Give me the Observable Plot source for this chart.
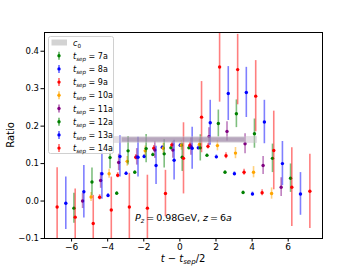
<!DOCTYPE html>
<html>
<head>
<meta charset="utf-8">
<script src="https://cdn.jsdelivr.net/npm/d3@7"></script>
<script src="https://cdn.jsdelivr.net/npm/@observablehq/plot@0.6"></script>
<style>
  html, body { margin: 0; padding: 0; background: #fff; }
  svg { display: block; }
</style>
</head>
<body>
<div id="chart"></div>
<script>
// ---- data ----
const tsep = [7, 8, 9, 10, 11, 12, 13, 14];
const seriesColors = ["green", "blue", "red", "orange", "purple", "green", "blue", "red"];
const shift = [0, 0.02, 0.055, 0.08, 0.11, 0.13, 0.18, 0.2];

const ratio7  = [0.021, 0.077, 0.124, 0.142, 0.142, 0.122, 0.077, 0.023];
const err7    = [0.004, 0.004, 0.004, 0.004, 0.004, 0.004, 0.004, 0.004];
const ratio8  = [0.015, 0.074, 0.119, 0.143, 0.149, 0.142, 0.118, 0.073, 0.019];
const err8    = [0.005, 0.005, 0.005, 0.005, 0.005, 0.005, 0.005, 0.005, 0.005];
const ratio9  = [0.010, 0.069, 0.117, 0.141, 0.150, 0.149, 0.146, 0.121, 0.077, 0.022];
const err9    = [0.007, 0.007, 0.007, 0.007, 0.007, 0.007, 0.007, 0.008, 0.008, 0.008];
const ratio10 = [0.011, 0.073, 0.106, 0.134, 0.141, 0.149, 0.151, 0.148, 0.128, 0.077, 0.020];
const err10   = [0.012, 0.012, 0.013, 0.013, 0.013, 0.013, 0.014, 0.014, 0.015, 0.015, 0.015];
const ratio11 = [0.000, 0.055, 0.103, 0.118, 0.136, 0.136, 0.145, 0.172, 0.186, 0.153, 0.095, 0.037];
const err11   = [0.020, 0.021, 0.022, 0.022, 0.022, 0.022, 0.023, 0.024, 0.026, 0.027, 0.024, 0.025];
const ratio12 = [-0.019, 0.051, 0.116, 0.134, 0.140, 0.126, 0.117, 0.142, 0.207, 0.233, 0.180, 0.114, 0.061];
const err12   = [0.040, 0.037, 0.030, 0.038, 0.038, 0.038, 0.038, 0.035, 0.036, 0.037, 0.039, 0.038, 0.038];
const ratio13 = [-0.006, 0.025, 0.073, 0.119, 0.117, 0.095, 0.109, 0.141, 0.209, 0.287, 0.290, 0.211, 0.100, 0.019];
const err13   = [0.070, 0.070, 0.068, 0.055, 0.053, 0.051, 0.053, 0.056, 0.060, 0.072, 0.067, 0.058, 0.059, 0.057];
const ratio14 = [-0.016, -0.043, -0.060, -0.024, -0.016, -0.019, 0.020, 0.114, 0.224, 0.358, 0.351, 0.280, 0.135, 0.037, 0.026];
const err14   = [0.105, 0.075, 0.075, 0.088, 0.090, 0.088, 0.062, 0.095, 0.095, 0.094, 0.094, 0.095, 0.105, 0.105, 0.099];

const ratios = [ratio7, ratio8, ratio9, ratio10, ratio11, ratio12, ratio13, ratio14];
const errs   = [err7, err8, err9, err10, err11, err12, err13, err14];

// c0 bands (overlapping fit bands)
const c0From = [-4.0, -3.2];
const c0To = [4.3, 3.6];
const c0Low = [0.154, 0.157];
const c0High = [0.172, 0.169];
const c0Fill = ["#c9c0cc", "#8a6f96"];

const xTicks = [-6, -4, -2, 0, 2, 4, 6];
const yTicks = [-0.1, 0.0, 0.1, 0.2, 0.3, 0.4];

// ---- build tables ----
const series = tsep.map((n, i) => ratios[i].map((v, t) => ({
  x: t - n / 2 + shift[i], y: v, lo: v - errs[i][t], hi: v + errs[i][t]
})));
const band = c0From.map((a, i) => ({x1: a, x2: c0To[i], y1: c0Low[i], y2: c0High[i], fill: c0Fill[i]}));

const minus = s => String(s).replace("-", "\u2212");

const marks = [];
series.forEach((rows, i) => {
  marks.push(Plot.ruleX(rows, {x: "x", y1: "lo", y2: "hi", stroke: seriesColors[i], strokeOpacity: 0.5, strokeWidth: 1.6, clip: true}));
  marks.push(Plot.dot(rows, {x: "x", y: "y", r: 1.7, fill: seriesColors[i], stroke: "none", clip: true}));
});
marks.push(Plot.rect(band, {x1: "x1", x2: "x2", y1: "y1", y2: "y2", fill: d => d.fill, fillOpacity: 0.5}));

const svg = Plot.plot({
  width: 357,
  height: 268,
  marginLeft: 44,
  marginRight: 35,
  marginTop: 32,
  marginBottom: 30,
  style: {fontFamily: "DejaVu Sans", fontSize: "8.5px", background: "#fff", color: "black"},
  x: {domain: [-7.5, 7.9], label: null},
  y: {domain: [-0.1, 0.45], label: null},
  marks: [
    ...marks,
    Plot.frame({stroke: "black", strokeWidth: 1}),
    Plot.axisX({ticks: xTicks, tickFormat: d => minus(d), tickSize: 3.5, tickPadding: 2, fontSize: 9, label: null}),
    Plot.axisY({ticks: yTicks, tickFormat: d => minus(d3.format(".1f")(d)), tickSize: 3.5, tickPadding: 2, fontSize: 8.5, label: null})
  ]
});

document.getElementById("chart").appendChild(svg);

// ---- text decorations ----
const s = d3.select(svg);
const F = "DejaVu Sans";

// y label
s.append("text")
  .attr("transform", "translate(14,135) rotate(-90)")
  .attr("text-anchor", "middle")
  .attr("font-family", F).attr("font-size", 10)
  .text("Ratio");

// x label: t − t_sep/2
{
  const t = s.append("text").attr("x", 183).attr("y", 262).attr("text-anchor", "middle")
    .attr("font-family", F).attr("font-size", 10);
  t.append("tspan").attr("font-style", "italic").text("t");
  t.append("tspan").text(" \u2212 ");
  t.append("tspan").attr("font-style", "italic").text("t");
  t.append("tspan").attr("font-style", "italic").attr("font-size", 7).attr("dy", 2).text("sep");
  t.append("tspan").attr("dy", -2).text("/2");
}

// annotation
{
  const t = s.append("text").attr("x", 135).attr("y", 221).attr("text-anchor", "start")
    .attr("font-family", F).attr("font-size", 9.5);
  t.append("tspan").attr("font-style", "italic").text("P");
  t.append("tspan").attr("font-style", "italic").attr("font-size", 6.6).attr("dy", 2).text("z");
  t.append("tspan").attr("dy", -2).attr("dx", 2).text("=");
  t.append("tspan").attr("dx", 2).text("0.98GeV, ");
  t.append("tspan").attr("font-style", "italic").text("z");
  t.append("tspan").attr("dx", 2).text("=");
  t.append("tspan").attr("dx", 2).text("6");
  t.append("tspan").attr("font-style", "italic").text("a");
}

// legend
{
  const g = s.append("g").attr("text-anchor", "start");
  g.append("rect").attr("x", 48.5).attr("y", 36.5).attr("width", 65).attr("height", 117)
    .attr("rx", 2).attr("fill", "#fff").attr("fill-opacity", 0.85).attr("stroke", "#d0d0d0");
  const x0 = 59, xt = 73, y0 = 42.5, dy = 13.2;
  g.append("rect").attr("x", 51.5).attr("y", y0 - 3).attr("width", 15.5).attr("height", 6)
    .attr("fill", "#d3d3d3");
  const c = g.append("text").attr("x", xt).attr("y", y0 + 3).attr("font-family", F).attr("font-size", 8);
  c.append("tspan").attr("font-style", "italic").text("c");
  c.append("tspan").attr("font-size", 5.6).attr("dy", 2).text("0");
  tsep.forEach((n, i) => {
    const yy = y0 + dy * (i + 1);
    g.append("line").attr("x1", x0).attr("x2", x0).attr("y1", yy - 4).attr("y2", yy + 4)
      .attr("stroke", seriesColors[i]).attr("stroke-opacity", 0.6).attr("stroke-width", 1.6);
    g.append("circle").attr("cx", x0).attr("cy", yy).attr("r", 1.7).attr("fill", seriesColors[i]);
    const tx = g.append("text").attr("x", xt).attr("y", yy + 3).attr("font-family", F).attr("font-size", 8);
    tx.append("tspan").attr("font-style", "italic").text("t");
    tx.append("tspan").attr("font-style", "italic").attr("font-size", 5.6).attr("dy", 2).text("sep");
    tx.append("tspan").attr("dy", -2).text(" = " + n + "a");
  });
}
</script>
</body>
</html>
